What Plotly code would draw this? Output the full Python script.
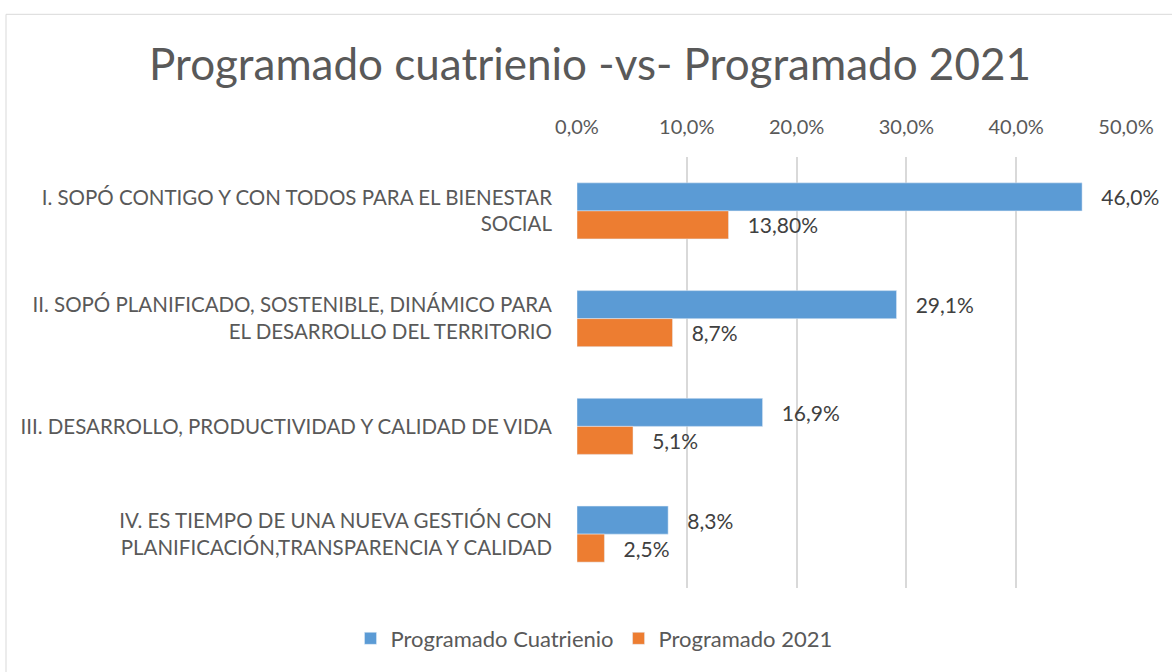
import plotly.graph_objects as go

categories = [
    "I. SOPÓ CONTIGO Y CON TODOS PARA EL BIENESTAR<br>SOCIAL",
    "II. SOPÓ PLANIFICADO, SOSTENIBLE, DINÁMICO PARA<br>EL DESARROLLO DEL TERRITORIO",
    "III. DESARROLLO, PRODUCTIVIDAD Y CALIDAD DE VIDA",
    "IV. ES TIEMPO DE UNA NUEVA GESTIÓN CON<br>PLANIFICACIÓN,TRANSPARENCIA Y CALIDAD",
]
cuatrienio = [0.460, 0.291, 0.169, 0.083]
cuatrienio_labels = ["46,0%", "29,1%", "16,9%", "8,3%"]
prog2021 = [0.138, 0.087, 0.051, 0.025]
prog2021_labels = ["13,80%", "8,7%", "5,1%", "2,5%"]
tick_vals = [0, 0.1, 0.2, 0.3, 0.4, 0.5]
tick_text = ["0,0%", "10,0%", "20,0%", "30,0%", "40,0%", "50,0%"]

FONT = "Lato, Open Sans, sans-serif"
W, H = 1172, 672
L, R, T, B = 577, 46, 157, 80
pw, ph = W - L - R, H - T - B
PAD = "\u00a0\u00a0\u00a0"

fig = go.Figure()
fig.add_trace(go.Bar(
    y=categories, x=cuatrienio, orientation="h", name="Programado Cuatrienio",
    marker=dict(color="#5B9BD5"), text=cuatrienio_labels, textposition="outside",
    texttemplate=PAD + "%{text}",
    textfont=dict(size=21, color="#404040", family=FONT), cliponaxis=False,
))
fig.add_trace(go.Bar(
    y=categories, x=prog2021, orientation="h", name="Programado 2021",
    marker=dict(color="#ED7D31"), text=prog2021_labels, textposition="outside",
    texttemplate=PAD + "%{text}",
    textfont=dict(size=21, color="#404040", family=FONT), cliponaxis=False,
))

def px_x(p):
    return (p - L) / pw

def px_y(p):
    return (H - B - p) / ph

fig.update_layout(
    width=W, height=H,
    margin=dict(l=L, r=R, t=T, b=B),
    paper_bgcolor="white", plot_bgcolor="white",
    barmode="group", bargap=0.48, bargroupgap=0,
    font=dict(family=FONT, color="#595959", size=20),
    title=dict(text="Programado cuatrienio -vs- Programado 2021",
               x=590 / W, xref="container", xanchor="center",
               y=1 - 65 / H, yref="container", yanchor="middle",
               font=dict(size=44, color="#595959", family=FONT)),
    xaxis=dict(side="top", range=[0, 0.5], tickvals=tick_vals, ticktext=tick_text,
               showgrid=True, gridcolor="#D9D9D9", gridwidth=1.5, zeroline=False,
               showline=False, ticks="", ticklabelstandoff=18,
               tickfont=dict(size=20, color="#595959", family=FONT)),
    yaxis=dict(autorange="reversed", showgrid=False, zeroline=False, showline=False,
               ticks="", ticklabelstandoff=24,
               tickfont=dict(size=20.5, color="#595959", family=FONT)),
    legend=dict(orientation="h", x=px_x(594), xanchor="center", y=px_y(643), yanchor="middle",
                font=dict(size=22, color="#595959", family=FONT), traceorder="normal",
                itemwidth=30),
    showlegend=True,
    shapes=[dict(type="rect", xref="paper", yref="paper",
                 x0=px_x(6), x1=px_x(1190), y0=px_y(13), y1=px_y(700),
                 line=dict(color="#D9D9D9", width=1), fillcolor="rgba(0,0,0,0)", layer="below")],
)

fig.write_html("out.html", config={"displayModeBar": False},
               post_script="document.body.style.margin='0px';")
